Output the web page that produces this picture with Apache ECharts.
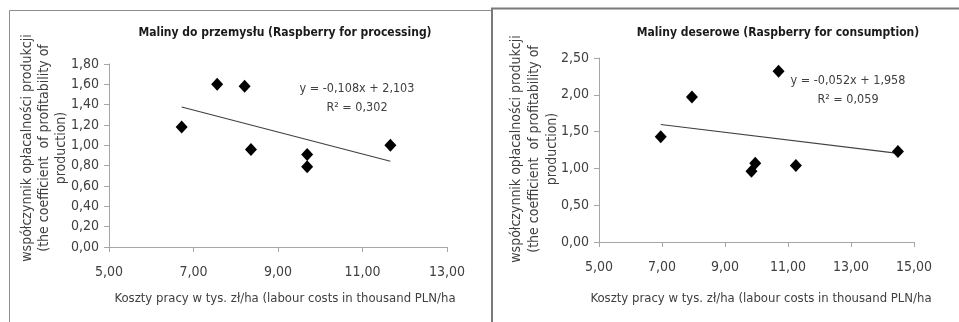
<!DOCTYPE html>
<html>
<head>
<meta charset="utf-8">
<script src="https://cdn.jsdelivr.net/npm/echarts@6/dist/echarts.min.js"></script>
<style>
html,body{margin:0;padding:0;background:#fff;}
#c{width:959px;height:322px;}
</style>
</head>
<body>
<div id="c"></div>
<script>
// ---- data ----
var procX = [6.72, 7.56, 8.21, 8.36, 9.69, 9.69, 11.66];
var procY = [1.18, 1.60, 1.58, 0.96, 0.91, 0.79, 1.00];
var consX = [6.96, 7.95, 10.70, 9.84, 9.96, 11.25, 14.49];
var consY = [1.43, 1.97, 2.32, 0.96, 1.07, 1.04, 1.23];
var trendProc = {slope: -0.108, intercept: 2.103, label: 'y = -0,108x + 2,103', r2: 'R² = 0,302'};
var trendCons = {slope: -0.052, intercept: 1.958, label: 'y = -0,052x + 1,958', r2: 'R² = 0,059'};
var titles = ['Maliny do przemysłu (Raspberry for processing)', 'Maliny deserowe (Raspberry for consumption)'];
var xTitle = 'Koszty pracy w tys. zł/ha (labour costs in thousand PLN/ha';
var yTitleLines = ['współczynnik opłacalności produkcji', '(the coefficient  of profitability of', 'production)'];

var FONT = '"Liberation Sans Narrow", "DejaVu Sans Condensed", "Open Sans", sans-serif';
function pairs(xs, ys){ return xs.map(function(x,i){ return [x, ys[i]]; }); }
function trendLine(xs, t){
  var lo = Math.min.apply(null, xs), hi = Math.max.apply(null, xs);
  return [[lo, t.intercept + t.slope*lo], [hi, t.intercept + t.slope*hi]];
}
function fmt(v){ return v.toFixed(2).replace('.', ','); }

var axisLine = {lineStyle:{color:'#a6a6a6', width:1}};
var axisTick = {show:true, inside:false, length:5, lineStyle:{color:'#a6a6a6'}};
var labelStyle = {color:'#404040', fontFamily:FONT, fontSize:14, formatter: fmt};

function xAxis(gi, max){
  return {type:'value', gridIndex:gi, min:5, max:max, interval:2, axisLine:axisLine, axisTick:axisTick,
    splitLine:{show:false}, axisLabel:Object.assign({margin:18}, labelStyle)};
}
function yAxis(gi, max, iv){
  return {type:'value', gridIndex:gi, min:0, max:max, interval:iv, axisLine:Object.assign({show:true}, axisLine), axisTick:axisTick,
    splitLine:{show:false}, axisLabel:Object.assign({margin:10}, labelStyle)};
}

var txt = function(x, y, text, opts){
  return Object.assign({type:'text', x:x, y:y, style:Object.assign({text:text, fill:'#404040', font:'13px ' + FONT, align:'center', verticalAlign:'middle'}, opts||{})});
};
function yTitle(xs, cy){
  return yTitleLines.map(function(l, i){
    return {type:'text', x:xs[i], y:cy, rotation:Math.PI/2,
      style:{text:l, fill:'#404040', font:'14px ' + FONT, align:'center', verticalAlign:'middle'}};
  });
}

var graphics = [
  {type:'polyline', shape:{points:[[9.5,330],[9.5,10.5],[491.5,10.5],[491.5,330]]}, style:{stroke:'#8c8c8c', lineWidth:1, fill:null}},
  {type:'polyline', shape:{points:[[492,330],[492,8.5],[965,8.5]]}, style:{stroke:'#7a7a7a', lineWidth:2, fill:null}},
  txt(285, 33, titles[0], {fill:'#1a1a1a', font:'bold 12px ' + FONT}),
  txt(778, 33, titles[1], {fill:'#1a1a1a', font:'bold 12px ' + FONT}),
  txt(285, 299, xTitle),
  txt(761, 299, xTitle),
  txt(357, 89, trendProc.label, {font:'12.5px ' + FONT}),
  txt(357, 108, trendProc.r2, {font:'12.5px ' + FONT}),
  txt(848, 81, trendCons.label, {font:'12.5px ' + FONT}),
  txt(848, 100, trendCons.r2, {font:'12.5px ' + FONT})
].concat(yTitle([27, 44, 61], 148)).concat(yTitle([516, 534, 552], 149));

var scatterStyle = {type:'scatter', symbol:'diamond', symbolSize:[12,13], itemStyle:{color:'#000', opacity:1}, z:3};
var lineStyle = {type:'line', symbol:'none', lineStyle:{color:'#404040', width:1.2}, z:2, silent:true};

var chart = echarts.init(document.getElementById('c'), null, {renderer:'canvas'});
chart.setOption({
  animation:false,
  backgroundColor:'#fff',
  grid:[
    {left:109, top:64, width:338, height:183},
    {left:599, top:58, width:315, height:184}
  ],
  xAxis:[xAxis(0, 13), xAxis(1, 15)],
  yAxis:[yAxis(0, 1.8, 0.2), yAxis(1, 2.5, 0.5)],
  series:[
    Object.assign({}, lineStyle, {xAxisIndex:0, yAxisIndex:0, data:trendLine(procX, trendProc)}),
    Object.assign({}, scatterStyle, {xAxisIndex:0, yAxisIndex:0, data:pairs(procX, procY)}),
    Object.assign({}, lineStyle, {xAxisIndex:1, yAxisIndex:1, data:trendLine(consX, trendCons)}),
    Object.assign({}, scatterStyle, {xAxisIndex:1, yAxisIndex:1, data:pairs(consX, consY)})
  ],
  graphic:graphics
});
</script>
</body>
</html>
